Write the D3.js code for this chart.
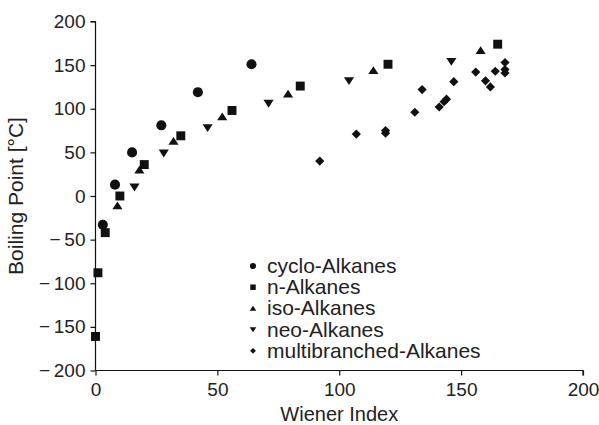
<!DOCTYPE html>
<html><head><meta charset="utf-8">
<script src="https://cdn.jsdelivr.net/npm/d3@7"></script>
<style>
html,body{margin:0;padding:0;background:#fff;}
svg{display:block;font-family:"Liberation Sans",Arial,Helvetica,sans-serif;}
</style></head>
<body>
<svg id="chart" width="599" height="425"></svg>
<script>
// ---- data ----
const seriesNames = ["cyclo-Alkanes","n-Alkanes","iso-Alkanes","neo-Alkanes","multibranched-Alkanes"];
const cycloW  = [3, 8, 15, 27, 42, 64];
const cycloBP = [-33, 13, 50, 81, 119, 151];
const nW  = [0, 1, 4, 10, 20, 35, 56, 84, 120, 165];
const nBP = [-161, -88, -42, 0, 36, 69, 98, 126, 151, 174];
const isoW  = [9, 18, 32, 52, 79, 114, 158];
const isoBP = [-11, 30, 63, 91, 117, 144, 167];
const neoW  = [16, 28, 46, 71, 104, 146];
const neoBP = [10, 49, 78, 106, 132, 154];
const multiW  = [92, 107, 119, 119, 131, 134, 141, 143, 144, 147, 156, 160, 162, 164, 168, 168, 168];
const multiBP = [40, 71, 75, 72, 96, 122, 102, 108, 111, 131, 142, 132, 125, 143, 153, 145, 141];
const xTicks = [0, 50, 100, 150, 200];
const yTicks = [-200, -150, -100, -50, 0, 50, 100, 150, 200];

// ---- layout ----
const svg = d3.select("#chart");
const x = d3.scaleLinear().domain([0, 200]).range([95.5, 583]);
const y = d3.scaleLinear().domain([-200, 200]).range([370.5, 21.5]);
const ink = "#111";
const tickFs = 19, titleFs = 20, yTitleFs = 21, legFs = 21;

// custom symbols
const triUp = {draw(c, s){ const w = Math.sqrt(s); c.moveTo(0,-w*0.45); c.lineTo(w*0.55,w*0.4); c.lineTo(-w*0.55,w*0.4); c.closePath(); }};
const triDown = {draw(c, s){ const w = Math.sqrt(s); c.moveTo(0,w*0.45); c.lineTo(w*0.55,-w*0.4); c.lineTo(-w*0.55,-w*0.4); c.closePath(); }};
const diamond = {draw(c, s){ const w = Math.sqrt(s)*0.55; c.moveTo(0,-w); c.lineTo(w,0); c.lineTo(0,w); c.lineTo(-w,0); c.closePath(); }};
const types = [d3.symbolCircle, d3.symbolSquare, triUp, triDown, diamond];
const sizes = [80, 80, 85, 85, 70];
const legSizes = [30, 30, 36, 36, 28];

const series = [
  {w: cycloW, b: cycloBP},
  {w: nW, b: nBP},
  {w: isoW, b: isoBP},
  {w: neoW, b: neoBP},
  {w: multiW, b: multiBP}
];

// axes
const fmt = d => d < 0 ? "\u2212\u2009" + Math.abs(d) : String(d);
const xAxis = d3.axisBottom(x).tickValues(xTicks).tickSize(5).tickPadding(7).tickFormat(fmt);
const yAxis = d3.axisLeft(y).tickValues(yTicks).tickSize(5).tickPadding(5).tickFormat(fmt);

const gx = svg.append("g").attr("transform", `translate(0,${y(-200)})`).call(xAxis);
const gy = svg.append("g").attr("transform", `translate(${x(0)},0)`).call(yAxis);
[gx, gy].forEach(g => {
  g.select(".domain").attr("stroke", ink).attr("stroke-width", 1.2);
  g.selectAll(".tick line").attr("stroke", ink).attr("stroke-width", 1.2);
  g.selectAll(".tick text").attr("fill", "#222").style("font-size", tickFs + "px").style("font-family", "Liberation Sans, Arial, sans-serif");
});
gx.select(".domain").attr("d", `M${x(0)},0H${x(200)}V5`);
gy.select(".domain").attr("d", `M-5,${y(200)}H0V${y(-200)}`);

// axis titles
svg.append("text").attr("x", (x(0)+x(200))/2).attr("y", 421)
  .attr("text-anchor", "middle").attr("fill", "#222").style("font-size", titleFs + "px")
  .text("Wiener Index");
svg.append("text").attr("transform", `translate(23,${(y(-200)+y(200))/2}) rotate(-90)`)
  .attr("text-anchor", "middle").attr("fill", "#222").style("font-size", yTitleFs + "px")
  .text("Boiling Point [°C]");

// points
series.forEach((s, i) => {
  const sym = d3.symbol().type(types[i]).size(sizes[i]);
  svg.append("g").selectAll("path").data(s.w.map((w, j) => [w, s.b[j]])).join("path")
    .attr("transform", d => `translate(${x(d[0])},${y(d[1])})`)
    .attr("d", sym()).attr("fill", ink);
});

// legend
const leg = svg.append("g").attr("transform", "translate(253,266)");
seriesNames.forEach((n, i) => {
  const g = leg.append("g").attr("transform", `translate(0,${i*21.2})`);
  g.append("path").attr("d", d3.symbol().type(types[i]).size(legSizes[i])()).attr("fill", ink);
  g.append("text").attr("x", 14).attr("y", 7).attr("fill", "#222").style("font-size", legFs + "px").text(n);
});
</script>
</body></html>
